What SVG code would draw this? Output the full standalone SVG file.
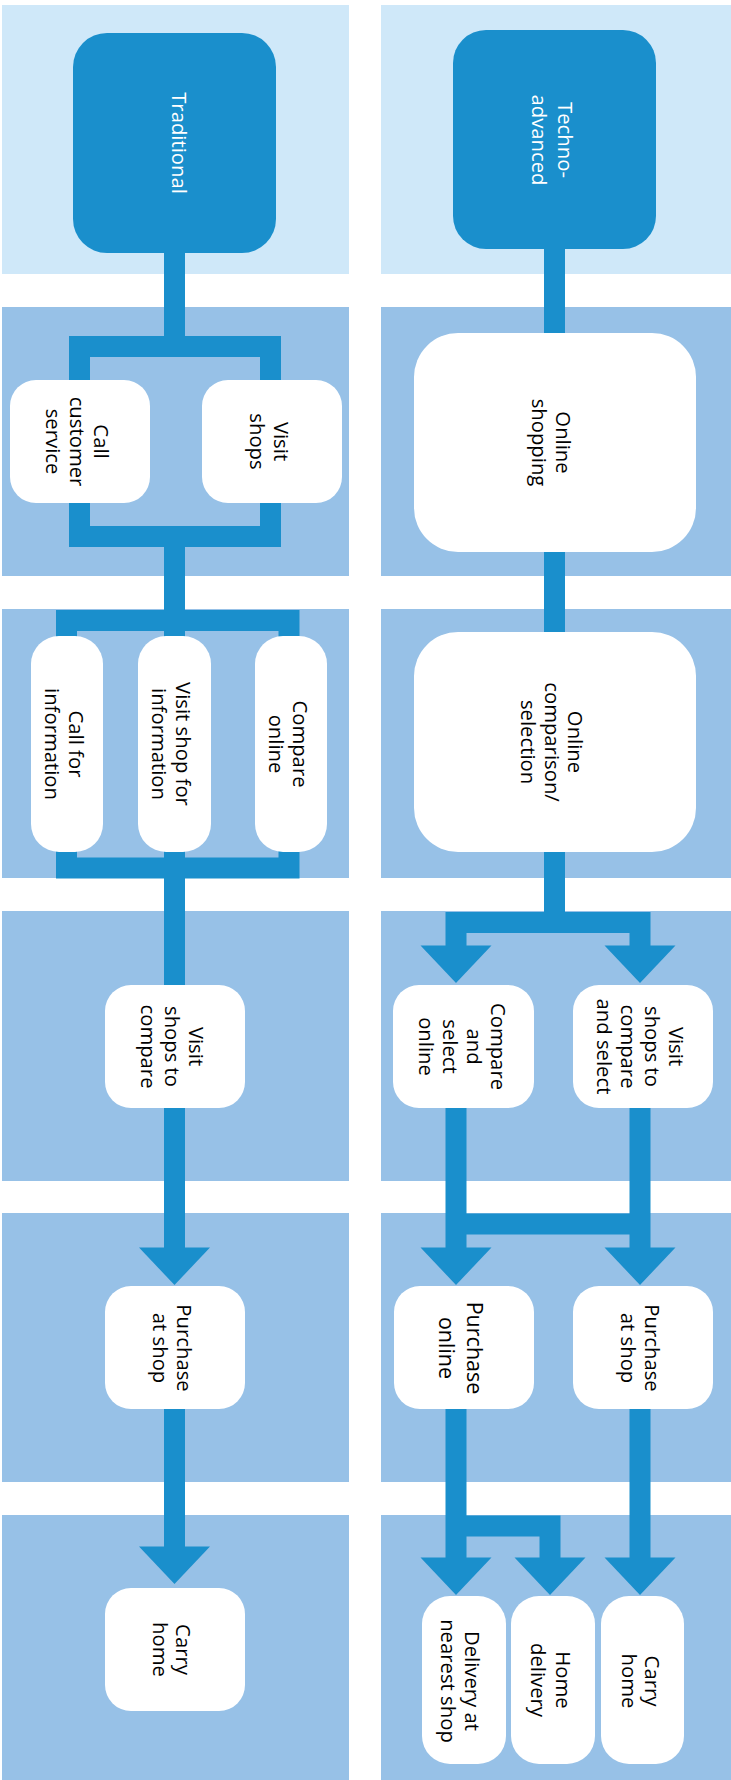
<svg xmlns="http://www.w3.org/2000/svg" xmlns:xlink="http://www.w3.org/1999/xlink" width="731" height="1780" viewBox="0 0 731 1780">
<style>
.pl{fill:#CFE8F9}
.pm{fill:#97C1E7}
.hd{fill:#1A8FCC}
.nd{fill:#FFFFFF}
.lbl{font-family:"Open Sans","Noto Sans","Liberation Sans",sans-serif;font-size:20.3px;fill:#000000;text-anchor:middle}
.wl{fill:#FFFFFF}
.cn{fill:none;stroke:#1A8FCC;stroke-width:21;stroke-linejoin:miter;stroke-linecap:butt}
.ar{fill:#1A8FCC}
</style>
<defs>
<path id="ah" class="ar" d="M-35.5,-37.5 H35.5 L0,0 Z"/>
</defs>
<rect width="731" height="1780" fill="#FFFFFF"/>
<g id="panels">
<rect class="pl" x="2" y="5" width="347" height="269"/>
<rect class="pl" x="381" y="5" width="350" height="269"/>
<rect class="pm" x="2" y="307" width="347" height="269"/>
<rect class="pm" x="381" y="307" width="350" height="269"/>
<rect class="pm" x="2" y="609" width="347" height="269"/>
<rect class="pm" x="381" y="609" width="350" height="269"/>
<rect class="pm" x="2" y="911" width="347" height="270"/>
<rect class="pm" x="381" y="911" width="350" height="270"/>
<rect class="pm" x="2" y="1213" width="347" height="269"/>
<rect class="pm" x="381" y="1213" width="350" height="269"/>
<rect class="pm" x="2" y="1515" width="347" height="265"/>
<rect class="pm" x="381" y="1515" width="350" height="265"/>
</g>
<g id="connectors">
<path class="cn" d="M174.5,250 V346.5"/>
<path class="cn" d="M79.5,382 V346.5 H270.5 V382"/>
<path class="cn" d="M79.5,501 V536.5 H270.5 V501"/>
<path class="cn" d="M174.5,536.5 V620.5"/>
<path class="cn" d="M66.5,638 V620.5 H289 V638"/>
<path class="cn" d="M66.5,850 V868 H289 V850"/>
<path class="cn" d="M174.5,620.5 V1248"/>
<path class="cn" d="M174.5,1407 V1547"/>
<use xlink:href="#ah" x="174.5" y="1285"/>
<use xlink:href="#ah" x="174.5" y="1584"/>
<path class="cn" d="M554.5,247 V335"/>
<path class="cn" d="M554.5,550 V634"/>
<path class="cn" d="M554.5,850 V922.5"/>
<path class="cn" d="M456,948 V922.5 H640 V948"/>
<path class="cn" d="M456,1106 V1249"/>
<path class="cn" d="M640,1106 V1249"/>
<path class="cn" d="M456,1224 H640"/>
<path class="cn" d="M456,1407 V1559"/>
<path class="cn" d="M456,1526 H550 V1559"/>
<path class="cn" d="M640,1407 V1559"/>
<use xlink:href="#ah" x="456" y="983"/>
<use xlink:href="#ah" x="640" y="983"/>
<use xlink:href="#ah" x="456" y="1285"/>
<use xlink:href="#ah" x="640" y="1285"/>
<use xlink:href="#ah" x="456" y="1595"/>
<use xlink:href="#ah" x="550" y="1595"/>
<use xlink:href="#ah" x="640" y="1595"/>
</g>
<g id="traditional">
<rect class="hd" x="73" y="33" width="203" height="220" rx="34"/>
<text class="lbl wl" transform="translate(172,143) rotate(90)"><tspan x="0" y="0">Traditional</tspan></text>
</g>
<g id="techno-advanced">
<rect class="hd" x="453" y="30" width="203" height="219" rx="33"/>
<text class="lbl wl" transform="translate(558,140) rotate(90)"><tspan x="0" y="0">Techno-</tspan><tspan x="0" y="26">advanced</tspan></text>
</g>
<g id="call-customer-service">
<rect class="nd" x="10" y="380" width="140" height="123" rx="26"/>
<text class="lbl" transform="translate(94,441.5) rotate(90)"><tspan x="0" y="0">Call</tspan><tspan x="0" y="24">customer</tspan><tspan x="0" y="48">service</tspan></text>
</g>
<g id="visit-shops">
<rect class="nd" x="202" y="380" width="140" height="123" rx="26"/>
<text class="lbl" transform="translate(274,441.5) rotate(90)"><tspan x="0" y="0">Visit</tspan><tspan x="0" y="24">shops</tspan></text>
</g>
<g id="online-shopping">
<rect class="nd" x="414" y="333" width="282" height="219" rx="44"/>
<text class="lbl" transform="translate(556,442.5) rotate(90)"><tspan x="0" y="0">Online</tspan><tspan x="0" y="24">shopping</tspan></text>
</g>
<g id="call-for-information">
<rect class="nd" x="31" y="636" width="72" height="216" rx="28"/>
<text class="lbl" transform="translate(68.5,744) rotate(90)"><tspan x="0" y="0">Call for</tspan><tspan x="0" y="24">information</tspan></text>
</g>
<g id="visit-shop-for-information">
<rect class="nd" x="138" y="636" width="73" height="216" rx="28"/>
<text class="lbl" transform="translate(176,744) rotate(90)"><tspan x="0" y="0">Visit shop for</tspan><tspan x="0" y="24">information</tspan></text>
</g>
<g id="compare-online">
<rect class="nd" x="255" y="636" width="72" height="216" rx="28"/>
<text class="lbl" transform="translate(293,744) rotate(90)"><tspan x="0" y="0">Compare</tspan><tspan x="0" y="24">online</tspan></text>
</g>
<g id="online-comparison-selection">
<rect class="nd" x="414" y="632" width="282" height="220" rx="44"/>
<text class="lbl" transform="translate(568,742) rotate(90)"><tspan x="0" y="0">Online</tspan><tspan x="0" y="23.5">comparison/</tspan><tspan x="0" y="47">selection</tspan></text>
</g>
<g id="visit-shops-to-compare">
<rect class="nd" x="105" y="985" width="140" height="123" rx="26"/>
<text class="lbl" transform="translate(189,1046.5) rotate(90)"><tspan x="0" y="0">Visit</tspan><tspan x="0" y="24">shops to</tspan><tspan x="0" y="48">compare</tspan></text>
</g>
<g id="compare-and-select-online">
<rect class="nd" x="393" y="985" width="141" height="123" rx="26"/>
<text class="lbl" transform="translate(491,1046.5) rotate(90)"><tspan x="0" y="0">Compare</tspan><tspan x="0" y="24">and</tspan><tspan x="0" y="48">select</tspan><tspan x="0" y="72">online</tspan></text>
</g>
<g id="visit-shops-to-compare-and-select">
<rect class="nd" x="573" y="985" width="140" height="123" rx="26"/>
<text class="lbl" transform="translate(669,1046.5) rotate(90)"><tspan x="0" y="0">Visit</tspan><tspan x="0" y="24">shops to</tspan><tspan x="0" y="48">compare</tspan><tspan x="0" y="72">and select</tspan></text>
</g>
<g id="purchase-at-shop-left">
<rect class="nd" x="105" y="1286" width="140" height="123" rx="26"/>
<text class="lbl" transform="translate(177,1348) rotate(90)"><tspan x="0" y="0">Purchase</tspan><tspan x="0" y="24">at shop</tspan></text>
</g>
<g id="purchase-online">
<rect class="nd" x="394" y="1286" width="140" height="123" rx="26"/>
<text class="lbl" style="font-size:21.5px" transform="translate(467,1348) rotate(90)"><tspan x="0" y="0">Purchase</tspan><tspan x="0" y="28">online</tspan></text>
</g>
<g id="purchase-at-shop-right">
<rect class="nd" x="573" y="1286" width="140" height="123" rx="26"/>
<text class="lbl" transform="translate(645,1348) rotate(90)"><tspan x="0" y="0">Purchase</tspan><tspan x="0" y="24">at shop</tspan></text>
</g>
<g id="carry-home-left">
<rect class="nd" x="105" y="1588" width="140" height="123" rx="26"/>
<text class="lbl" transform="translate(176,1649.5) rotate(90)"><tspan x="0" y="0">Carry</tspan><tspan x="0" y="23">home</tspan></text>
</g>
<g id="delivery-at-nearest-shop">
<rect class="nd" x="422" y="1596" width="84" height="168" rx="28"/>
<text class="lbl" transform="translate(465,1681) rotate(90)"><tspan x="0" y="0">Delivery at</tspan><tspan x="0" y="24">nearest shop</tspan></text>
</g>
<g id="home-delivery">
<rect class="nd" x="511" y="1596" width="84" height="168" rx="28"/>
<text class="lbl" transform="translate(556,1680) rotate(90)"><tspan x="0" y="0">Home</tspan><tspan x="0" y="25">delivery</tspan></text>
</g>
<g id="carry-home-right">
<rect class="nd" x="601" y="1596" width="83" height="168" rx="28"/>
<text class="lbl" transform="translate(645,1681) rotate(90)"><tspan x="0" y="0">Carry</tspan><tspan x="0" y="23">home</tspan></text>
</g>
</svg>
